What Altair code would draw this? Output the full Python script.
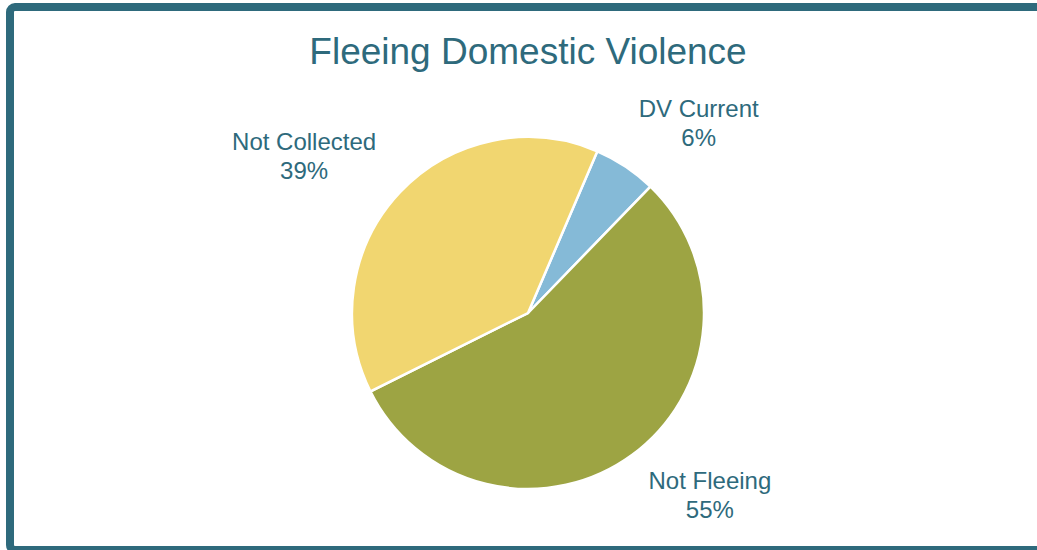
import altair as alt
import pandas as pd

categories = ["DV Current", "Not Fleeing", "Not Collected"]
shares = [5.8, 55.4, 38.8]
colors = ["#85bad7", "#9da443", "#f1d670"]
title_text = "Fleeing Domestic Violence"

df = pd.DataFrame({"category": categories, "share": shares,
                   "idx": list(range(len(categories)))})

START = 0.405
TWO_PI = 6.283185307
CX, CY, R = 528, 313, 176
TEAL = "#2e6a7c"
FONT = "Liberation Sans"

base = alt.Chart(df)

border = alt.Chart(pd.DataFrame({"a": [0]})).mark_rect(
    filled=False, stroke=TEAL, strokeWidth=8, cornerRadius=5
).encode(x=alt.value(10), x2=alt.value(1050), y=alt.value(7), y2=alt.value(550))

title = alt.Chart(pd.DataFrame({"t": [title_text]})).mark_text(
    font=FONT, fontSize=37, color=TEAL, align="center", baseline="alphabetic"
).encode(x=alt.value(528), y=alt.value(64), text="t:N")

pie = base.mark_arc(stroke="white", strokeWidth=2.5, radius=R).encode(
    theta=alt.Theta("share:Q", stack=True,
                    scale=alt.Scale(range=[START, START + TWO_PI])),
    color=alt.Color("category:N", scale=alt.Scale(domain=categories, range=colors),
                    legend=None),
    order=alt.Order("idx:Q"),
    x=alt.value(CX), y=alt.value(CY),
)

labels = base.transform_joinaggregate(total="sum(share)").transform_window(
    cum="sum(share)", sort=[alt.SortField("idx")], frame=[None, 0]
).transform_calculate(
    ang=f"{START} + (datum.cum - datum.share/2)/datum.total*{TWO_PI}",
    lx=f"{CX} + 308*sin(datum.ang)",
    ly=f"{CY} - 227*cos(datum.ang)",
    label="datum.category + '\\n' + format(datum.share, '.0f') + '%'",
).mark_text(
    font=FONT, fontSize=24, color=TEAL, lineBreak="\n", align="center",
    baseline="middle", lineHeight=29, dy=-14.5
).encode(
    x=alt.X("lx:Q", scale=None), y=alt.Y("ly:Q", scale=None), text="label:N"
)

chart = alt.layer(border, title, pie, labels).properties(
    width=1037, height=550, autosize=alt.AutoSizeParams(type="none"), padding=0
).configure_view(stroke=None)

chart.save("out.html", embed_options={"renderer": "svg", "actions": False})
